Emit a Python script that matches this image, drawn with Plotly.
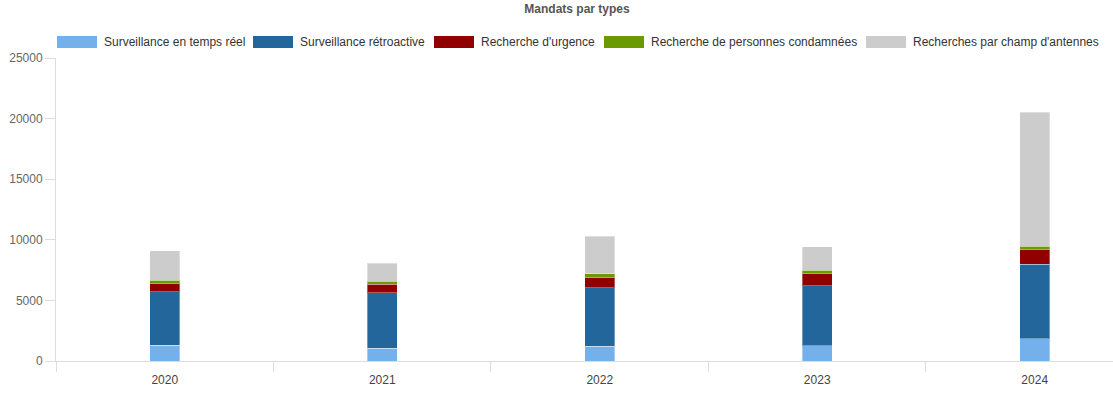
import plotly.graph_objects as go

years = ["2020", "2021", "2022", "2023", "2024"]
series_names = [
    "Surveillance en temps réel",
    "Surveillance rétroactive",
    "Recherche d'urgence",
    "Recherche de personnes condamnées",
    "Recherches par champ d'antennes",
]
temps_reel = [1290, 1050, 1210, 1270, 1845]
retroactive = [4430, 4590, 4840, 4940, 6125]
urgence = [680, 710, 870, 1015, 1235]
condamnees = [250, 245, 280, 245, 245]
antennes = [2450, 1460, 3075, 1955, 11070]
y_ticks = [0, 5000, 10000, 15000, 20000, 25000]

colors = ["#74b1eb", "#22669c", "#900000", "#6b9a00", "#cccccc"]
series_values = [temps_reel, retroactive, urgence, condamnees, antennes]

W, H = 1113, 396
ML, MR, MT, MB = 56, 0, 58, 35
PW = W - ML - MR
PH = H - MT - MB

fig = go.Figure()
for name, vals, col in zip(series_names, series_values, colors):
    fig.add_trace(go.Bar(
        x=years, y=vals, name=name, width=0.138,
        marker=dict(color=col, line=dict(color="rgba(255,255,255,0.35)", width=1)),
        showlegend=False,
    ))

# custom legend with wide swatches
swatch_left = [57, 253, 434, 604, 866]
sw_w = 40
def px_x(px):
    return (px - ML) / PW
def px_y(py):
    return (H - MB - py) / PH

shapes = []
annotations = []
for name, col, sx in zip(series_names, colors, swatch_left):
    shapes.append(dict(type="rect", xref="paper", yref="paper",
                       x0=px_x(sx), x1=px_x(sx + sw_w), y0=px_y(48), y1=px_y(36),
                       fillcolor=col, line=dict(width=0)))
    annotations.append(dict(xref="paper", yref="paper", x=px_x(sx + sw_w + 5), y=px_y(42),
                            xanchor="left", yanchor="middle", showarrow=False, text=name,
                            font=dict(size=12, color="#333333", family="Liberation Sans, Arial, sans-serif")))

fig.update_layout(
    width=W, height=H,
    margin=dict(l=ML, r=MR, t=MT, b=MB),
    barmode="stack",
    plot_bgcolor="white", paper_bgcolor="white",
    font=dict(family="Liberation Sans, Arial, sans-serif", size=12, color="#666666"),
    title=dict(text="<b>Mandats par types</b>", x=577 / W, xanchor="center",
               y=1 - 9 / H, yanchor="middle",
               font=dict(size=12, color="#555555", family="Liberation Sans, Arial, sans-serif")),
    shapes=shapes,
    annotations=annotations,
    xaxis=dict(type="category", range=[-0.5, 4.36], tickson="boundaries",
               ticks="outside", ticklen=10, tickcolor="#dddddd",
               showline=True, linecolor="#dddddd", showgrid=False,
               ticklabelstandoff=8,
               tickfont=dict(size=12, color="#444444")),
    yaxis=dict(range=[0, 25000], tickvals=y_ticks, ticktext=[str(v) for v in y_ticks],
               ticks="outside", ticklen=10, tickcolor="#dddddd",
               showline=True, linecolor="#dddddd", showgrid=False, zeroline=False,
               tickfont=dict(size=12, color="#666666")),
)

fig.write_html("out.html", config={"displayModeBar": False},
               post_script="document.body.style.margin='0';document.body.style.overflow='hidden';")
